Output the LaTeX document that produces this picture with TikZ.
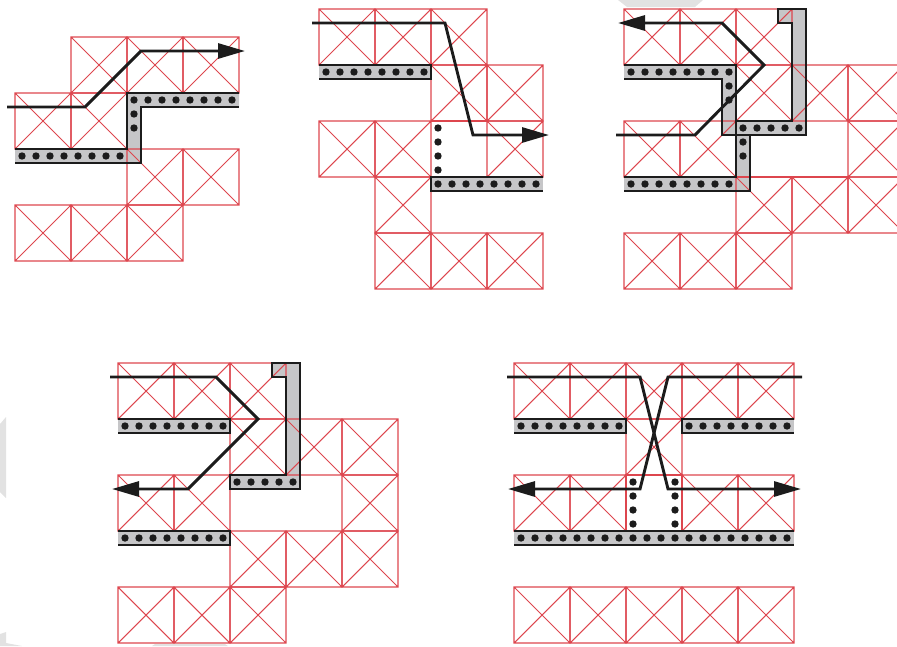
\documentclass[tikz,border=0pt]{standalone}
\usetikzlibrary{arrows.meta}
\definecolor{gridred}{RGB}{221,70,78}
\definecolor{wallgray}{RGB}{198,198,200}
\definecolor{inkblack}{RGB}{28,28,28}
\definecolor{faintmark}{RGB}{226,226,226}
\tikzset{
  wallfill/.style={fill=wallgray,draw=none},
  wallline/.style={draw=inkblack,line width=2.2pt,line join=miter},
  signal/.style={draw=inkblack,line width=2.9pt,line join=miter},
  signalarrow/.style={signal,-{Triangle[length=27pt,width=15pt]}},
  gridline/.style={draw=gridred,line width=1.05pt},
  viadot/.style={fill=inkblack,draw=none}
}
% \xcells{left}{top}{count}: a row of crossed 56-unit cells
\newcommand{\xcells}[3]{%
  \foreach \ci in {1,...,#3}{%
    \pgfmathsetmacro{\xa}{#1+(\ci-1)*56}%
    \pgfmathsetmacro{\xb}{\xa+56}%
    \pgfmathsetmacro{\yb}{#2+56}%
    \draw[gridline] (\xa,#2) rectangle (\xb,\yb) (\xa,#2) -- (\xb,\yb) (\xa,\yb) -- (\xb,#2);
  }%
}
% \viarow{x0}{y0}{dx}{dy}{n}
\newcommand{\viarow}[5]{%
  \foreach \ci in {1,...,#5}{%
    \fill[viadot] ({#1+(\ci-1)*#3},{#2+(\ci-1)*#4}) circle [radius=3.7pt];
  }%
}
\begin{document}
\begin{tikzpicture}[x=1pt,y=-1pt]
\useasboundingbox (0,0) rectangle (897,646);
% ---- faint background marks
\fill[faintmark] (618,0) -- (627,7) -- (695,7) -- (703,0) -- cycle;
\fill[faintmark] (0,424) -- (6,417) -- (6,498) -- (0,492) -- cycle;
\fill[faintmark] (0,634) -- (6,632) -- (6,643) -- (22,646) -- (0,646) -- cycle;
\fill[faintmark] (152,646) -- (155,644) -- (225,644) -- (228,646) -- cycle;
% ---- panel 1
\fill[wallgray] (15,149) -- (127,149) -- (127,93) -- (239,93) -- (239,107) -- (141,107) -- (141,163) -- (15,163) -- cycle;
\xcells{71}{37}{3}
\xcells{15}{93}{2}
\xcells{127}{149}{2}
\xcells{15}{205}{3}
\draw[wallline] (15,149) -- (127,149) -- (127,93) -- (239,93);
\draw[wallline] (239,107) -- (141,107) -- (141,163) -- (15,163);
\viarow{22}{156}{14}{0}{8}
\viarow{134}{100}{14}{0}{8}
\viarow{134}{114}{0}{14}{2}
\draw[signalarrow] (7,107) -- (85,107) -- (141,51) -- (245,51);
% ---- panel 2
\fill[wallgray] (319,65) rectangle (431,79);
\fill[wallgray] (431,177) rectangle (543,191);
\xcells{319}{9}{3}
\xcells{431}{65}{2}
\xcells{319}{121}{2}
\xcells{487}{121}{1}
\draw[gridline] (431,121) -- (487,121);
\xcells{375}{177}{1}
\xcells{375}{233}{3}
\draw[wallline] (319,65) -- (431,65) -- (431,79) -- (319,79);
\draw[wallline] (543,177) -- (431,177) -- (431,191) -- (543,191);
\viarow{326}{72}{14}{0}{8}
\viarow{438}{128}{0}{14}{4}
\viarow{438}{184}{14}{0}{8}
\draw[signalarrow] (312,23) -- (445,23) -- (473,135) -- (549,135);
% ---- panel 3
\begin{scope}
\clip (0,0) rectangle (897,646);
\fill[wallgray] (624,65) -- (736,65) -- (736,121) -- (792,121) -- (792,23) -- (778,23) -- (778,9) -- (806,9) -- (806,135) -- (750,135) -- (750,191) -- (624,191) -- (624,177) -- (736,177) -- (736,135) -- (722,135) -- (722,79) -- (624,79) -- cycle;
\xcells{624}{9}{3}
\xcells{736}{65}{3}
\xcells{624}{121}{2}
\xcells{848}{121}{1}
\draw[gridline] (736,177) -- (848,177);
\xcells{736}{177}{3}
\xcells{624}{233}{3}
\end{scope}
\draw[wallline] (624,65) -- (736,65) -- (736,177) -- (624,177);
\draw[wallline] (624,79) -- (722,79) -- (722,135) -- (806,135) -- (806,9) -- (778,9) -- (778,23) -- (792,23) -- (792,121) -- (736,121);
\draw[wallline] (750,135) -- (750,191) -- (624,191);
\viarow{631}{72}{14}{0}{8}
\viarow{729}{86}{0}{14}{2}
\viarow{743}{128}{14}{0}{5}
\viarow{743}{142}{0}{14}{2}
\viarow{631}{184}{14}{0}{8}
\draw[signalarrow] (616,135) -- (695,135) -- (764,65) -- (722,23) -- (618,23);
% ---- panel 4
\fill[wallgray] (118,419) rectangle (230,433);
\fill[wallgray] (230,475) -- (286,475) -- (286,377) -- (272,377) -- (272,363) -- (300,363) -- (300,489) -- (230,489) -- cycle;
\fill[wallgray] (118,531) rectangle (230,545);
\xcells{118}{363}{3}
\xcells{230}{419}{3}
\xcells{118}{475}{2}
\xcells{342}{475}{1}
\xcells{230}{531}{3}
\xcells{118}{587}{3}
\draw[wallline] (118,419) -- (230,419) -- (230,433) -- (118,433);
\draw[wallline] (230,475) -- (286,475) -- (286,377) -- (272,377) -- (272,363) -- (300,363) -- (300,489) -- (230,489) -- cycle;
\draw[wallline] (118,531) -- (230,531) -- (230,545) -- (118,545);
\viarow{125}{426}{14}{0}{8}
\viarow{237}{482}{14}{0}{5}
\viarow{125}{538}{14}{0}{8}
\draw[signalarrow] (110,377) -- (216,377) -- (258,419) -- (188,489) -- (112,489);
% ---- panel 5
\fill[wallgray] (514,419) rectangle (626,433);
\fill[wallgray] (682,419) rectangle (794,433);
\fill[wallgray] (514,531) rectangle (794,545);
\xcells{514}{363}{5}
\xcells{626}{419}{1}
\xcells{514}{475}{2}
\xcells{682}{475}{2}
\draw[gridline] (626,475) rectangle (682,531);
\xcells{514}{587}{5}
\draw[wallline] (514,419) -- (626,419) -- (626,433) -- (514,433);
\draw[wallline] (794,419) -- (682,419) -- (682,433) -- (794,433);
\draw[wallline] (514,531) -- (794,531);
\draw[wallline] (514,545) -- (794,545);
\viarow{521}{426}{14}{0}{8}
\viarow{689}{426}{14}{0}{8}
\viarow{521}{538}{14}{0}{20}
\viarow{633}{482}{0}{14}{4}
\viarow{675}{482}{0}{14}{4}
\draw[signalarrow] (507,377) -- (640,377) -- (668,489) -- (801,489);
\draw[signalarrow] (802,377) -- (668,377) -- (640,489) -- (508,489);
\end{tikzpicture}
\end{document}
